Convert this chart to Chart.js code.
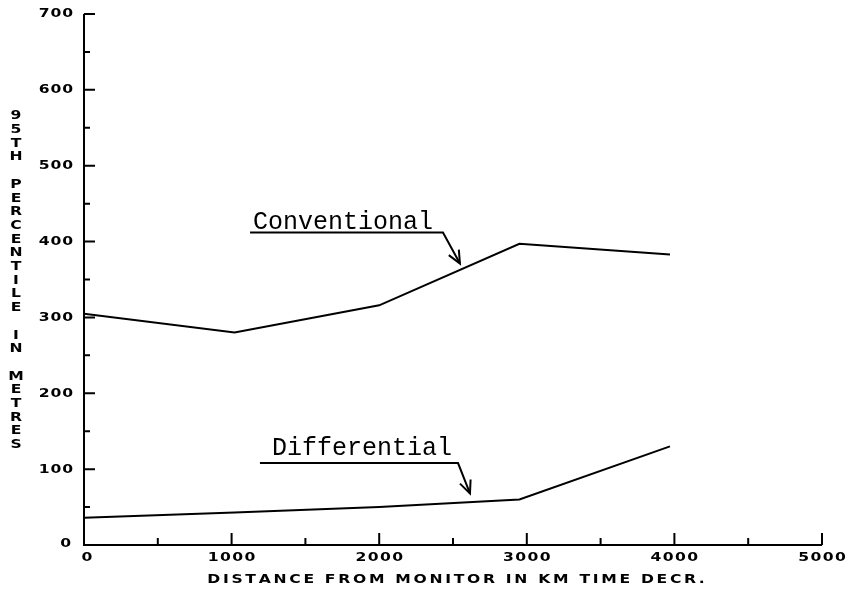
<!DOCTYPE html>
<html>
<head>
<meta charset="utf-8">
<style>
  html, body { margin: 0; padding: 0; background: #fff; }
  #wrap { width: 848px; height: 597px; }
</style>
<script src="https://cdn.jsdelivr.net/npm/chart.js@4/dist/chart.umd.min.js"></script>
</head>
<body>
<div id="wrap"><canvas id="c" width="848" height="597"></canvas></div>
<script>
// Distance from monitor (km x time degradation) and 95th percentile error (m)
const distance = [0, 1020, 2000, 2950, 3970];
const conventional = [305, 280, 316, 397, 383];
const differential = [36, 43, 50, 60, 130];

const xTickValues = [0, 1000, 2000, 3000, 4000, 5000];
const yTickValues = [0, 100, 200, 300, 400, 500, 600, 700];

const seriesNames = ['Conventional', 'Differential'];
const xTitle = 'DISTANCE FROM MONITOR IN KM TIME DECR.';
const yTitle = '95TH PERCENTILE IN METRES';

const toPoints = (xs, ys) => xs.map((x, i) => ({ x: x, y: ys[i] }));

const plotterFont = 'bold 13px "DejaVu Sans", sans-serif';
const STRETCH = 1.2;   // wide plotter-style glyphs

// Callout label with an underline leader ending in an arrow on the curve
const callouts = [
  { text: seriesNames[0], tx: 1145, ty: 417, lineY: 412, x0: 1125, x1: 2432, tipX: 2547, tipY: 371 },
  { text: seriesNames[1], tx: 1274, ty: 118, lineY: 108, x0: 1192, x1: 2534, tipX: 2615, tipY: 68 }
];

// Draws horizontally stretched text with spacing between glyphs
function spacedText(ctx, str, x, y, gap, align) {
  const widths = str.split('').map(ch => ctx.measureText(ch).width * STRETCH);
  const total = widths.reduce((a, b) => a + b, 0) + gap * (str.length - 1);
  let cx = align === 'right' ? x - total : align === 'center' ? x - total / 2 : x;
  str.split('').forEach((ch, i) => {
    ctx.save();
    ctx.textAlign = 'left';
    ctx.translate(cx, y);
    ctx.scale(STRETCH, 1);
    ctx.fillText(ch, 0, 0);
    ctx.restore();
    cx += widths[i] + gap;
  });
}

const plotterAxes = {
  id: 'plotterAxes',
  afterDraw(chart) {
    const ctx = chart.ctx;
    const xs = chart.scales.x, ys = chart.scales.y;
    const X = v => xs.getPixelForValue(v);
    const Y = v => ys.getPixelForValue(v);
    const x0 = X(0), y0 = Y(0);

    ctx.save();
    ctx.strokeStyle = '#000';
    ctx.fillStyle = '#000';
    ctx.lineWidth = 2;
    ctx.lineCap = 'butt';

    // axis lines
    ctx.beginPath();
    ctx.moveTo(x0, Y(700));
    ctx.lineTo(x0, y0);
    ctx.lineTo(X(5000), y0);
    ctx.stroke();

    // y ticks (inward): major every 100, minor every 50
    ctx.beginPath();
    for (let v = 50; v <= 700; v += 50) {
      const len = v % 100 === 0 ? 11 : 6;
      ctx.moveTo(x0, Y(v));
      ctx.lineTo(x0 + len, Y(v));
    }
    // x ticks (inward): major every 1000, minor every 500
    for (let v = 500; v <= 5000; v += 500) {
      const len = v % 1000 === 0 ? 12 : 7;
      ctx.moveTo(X(v), y0);
      ctx.lineTo(X(v), y0 - len);
    }
    ctx.stroke();

    // tick labels
    ctx.font = plotterFont;
    ctx.textBaseline = 'middle';
    yTickValues.forEach(v => {
      const dy = v === 0 ? -1 : 0;
      const dx = v === 0 ? -2 : 0;
      spacedText(ctx, String(v), 73 + dx, Y(v) + dy, 0.8, 'right');
    });
    xTickValues.forEach(v => {
      const dx = v === 0 ? 3 : 0;
      spacedText(ctx, String(v), X(v) + dx, y0 + 13, 1.4, 'center');
    });

    // x axis title
    spacedText(ctx, xTitle, (chart.chartArea.left + chart.chartArea.right) / 2 + 3, y0 + 35, 2.7, 'center');

    // y axis title: upright letters stacked top to bottom
    yTitle.split('').forEach((ch, i) => {
      if (ch !== ' ') spacedText(ctx, ch, 16, 116 + i * 13.7, 0, 'center');
    });

    // callouts
    callouts.forEach(c => {
      ctx.font = '25px "Liberation Mono", "Courier New", monospace';
      ctx.textAlign = 'left';
      ctx.textBaseline = 'alphabetic';
      ctx.fillText(c.text, X(c.tx), Y(c.ty));
      ctx.lineWidth = 2;
      ctx.beginPath();
      ctx.moveTo(X(c.x0), Y(c.lineY));
      ctx.lineTo(X(c.x1), Y(c.lineY));
      ctx.lineTo(X(c.tipX), Y(c.tipY));
      ctx.stroke();
      const ang = Math.atan2(Y(c.lineY) - Y(c.tipY), X(c.x1) - X(c.tipX));
      const wing = 14, spread = 0.42;
      ctx.beginPath();
      ctx.moveTo(X(c.tipX) + wing * Math.cos(ang - spread), Y(c.tipY) + wing * Math.sin(ang - spread));
      ctx.lineTo(X(c.tipX), Y(c.tipY));
      ctx.lineTo(X(c.tipX) + wing * Math.cos(ang + spread), Y(c.tipY) + wing * Math.sin(ang + spread));
      ctx.stroke();
    });
    ctx.restore();
  }
};

new Chart(document.getElementById('c'), {
  type: 'line',
  data: {
    datasets: [
      { label: seriesNames[0], data: toPoints(distance, conventional) },
      { label: seriesNames[1], data: toPoints(distance, differential) }
    ].map(d => Object.assign(d, {
      borderColor: '#000', borderWidth: 2, pointRadius: 0, tension: 0, fill: false
    }))
  },
  options: {
    responsive: false,
    animation: false,
    devicePixelRatio: 1,
    layout: { padding: { left: 84, right: 26, top: 14, bottom: 52 } },
    plugins: { legend: { display: false }, tooltip: { enabled: false } },
    scales: {
      x: { type: 'linear', min: 0, max: 5000, display: false },
      y: { type: 'linear', min: 0, max: 700, display: false }
    }
  },
  plugins: [plotterAxes]
});
</script>
</body>
</html>
